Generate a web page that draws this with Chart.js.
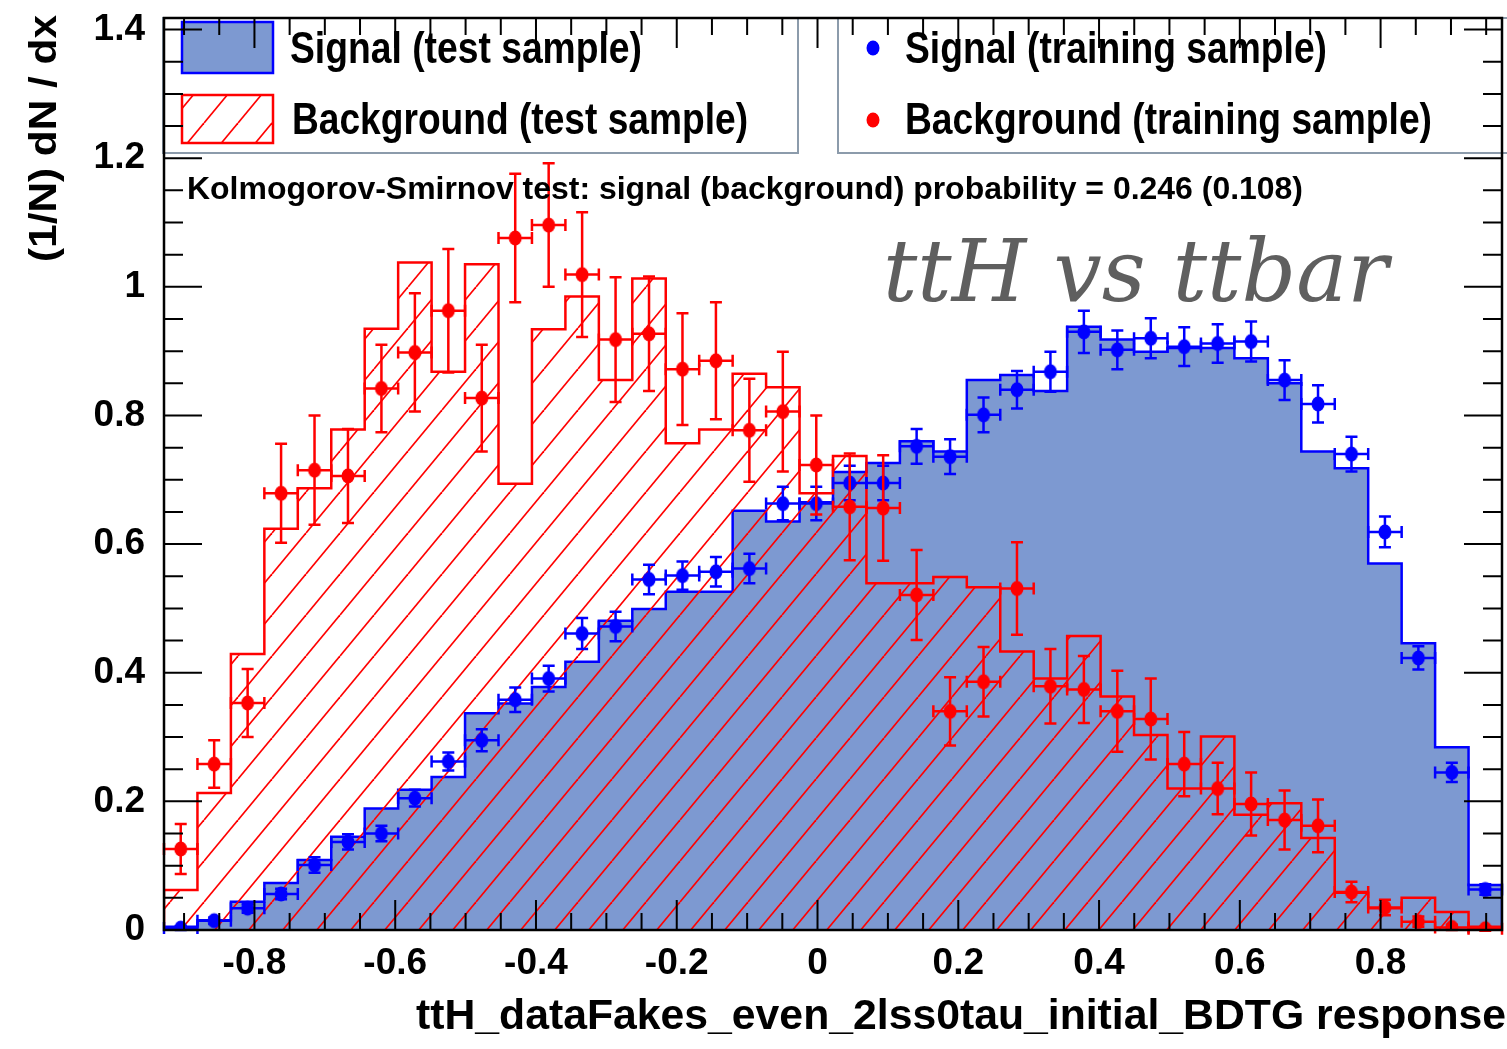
<!DOCTYPE html>
<html lang="en">
<head>
  <meta charset="UTF-8" />
  <title>ttH vs ttbar - BDTG response</title>
  <style>
    html, body { margin: 0; padding: 0; background: #fff; }
    #wrap { width: 1507px; height: 1049px; }
  </style>
</head>
<body>
  <div id="wrap"><canvas id="bdtChart" width="1507" height="1049"></canvas></div>

  <script src="https://cdn.jsdelivr.net/npm/chart.js@4.4.0/dist/chart.umd.min.js"></script>
  <script>
    // response range of the classifier output (40 equal bins)
    const xMin = -0.9285;
    const xMax = 0.9725;
    const yMax = 1.418;
    const xTickLabels = ['-0.8', '-0.6', '-0.4', '-0.2', '0', '0.2', '0.4', '0.6', '0.8'];
    const yTickLabels = ['0', '0.2', '0.4', '0.6', '0.8', '1', '1.2', '1.4'];

    // test samples, normalised histograms
    const sigTest = [0.005, 0.015, 0.044, 0.073, 0.109, 0.145, 0.189, 0.218, 0.238, 0.337,
                     0.352, 0.378, 0.417, 0.481, 0.499, 0.526, 0.526, 0.652, 0.635, 0.665,
                     0.712, 0.726, 0.760, 0.744, 0.855, 0.863, 0.838, 0.938, 0.918, 0.899,
                     0.905, 0.905, 0.889, 0.850, 0.744, 0.718, 0.570, 0.446, 0.284, 0.070];
    const bkgTest = [0.062, 0.213, 0.429, 0.624, 0.687, 0.778, 0.935, 1.038, 0.868, 1.035,
                     0.694, 0.934, 0.985, 0.855, 1.013, 0.757, 0.778, 0.865, 0.844, 0.679,
                     0.737, 0.539, 0.539, 0.549, 0.533, 0.433, 0.391, 0.457, 0.363, 0.303,
                     0.220, 0.301, 0.179, 0.197, 0.143, 0.058, 0.034, 0.050, 0.028, 0.005];

    // training samples, points with errors
    const sigTrain = [0.003, 0.0145, 0.034, 0.056, 0.101, 0.137, 0.150, 0.205, 0.262, 0.295,
                      0.358, 0.391, 0.461, 0.472, 0.545, 0.551, 0.557, 0.562, 0.663, 0.663,
                      0.695, 0.695, 0.752, 0.736, 0.801, 0.840, 0.868, 0.930, 0.902, 0.920,
                      0.907, 0.912, 0.915, 0.855, 0.818, 0.740, 0.619, 0.423, 0.245, 0.063];
    const sigTrainErr = [0.003, 0.005, 0.007, 0.008, 0.012, 0.012, 0.012, 0.013, 0.014, 0.017,
                         0.019, 0.020, 0.024, 0.023, 0.023, 0.022, 0.023, 0.023, 0.026, 0.026,
                         0.027, 0.027, 0.027, 0.027, 0.027, 0.029, 0.031, 0.033, 0.030, 0.031,
                         0.030, 0.030, 0.031, 0.031, 0.029, 0.027, 0.024, 0.018, 0.015, 0.008];
    const bkgTrain = [0.126, 0.258, 0.353, 0.679, 0.715, 0.706, 0.842, 0.898, 0.963, 0.827,
                      1.076, 1.096, 1.019, 0.918, 0.927, 0.872, 0.885, 0.777, 0.806, 0.723,
                      0.658, 0.656, 0.521, 0.340, 0.386, 0.531, 0.379, 0.374, 0.340, 0.328,
                      0.258, 0.220, 0.196, 0.171, 0.162, 0.059, 0.035, 0.013, 0.004, 0.002];
    const bkgTrainErr = [0.039, 0.037, 0.053, 0.077, 0.085, 0.073, 0.068, 0.092, 0.096, 0.083,
                         0.100, 0.096, 0.097, 0.097, 0.089, 0.087, 0.091, 0.080, 0.093, 0.077,
                         0.083, 0.082, 0.070, 0.053, 0.054, 0.072, 0.058, 0.052, 0.063, 0.063,
                         0.050, 0.040, 0.049, 0.046, 0.041, 0.016, 0.012, 0.008, 0.004, 0.003];

    const nBins = sigTest.length;
    const binW = (xMax - xMin) / nBins;
    const edge = i => xMin + i * binW;

    // outline of a histogram: two points per bin plus the drop to zero at both ends
    function stepPoints(h) {
      const pts = [{ x: edge(0), y: 0 }];
      h.forEach((v, i) => pts.push({ x: edge(i), y: v }, { x: edge(i + 1), y: v }));
      pts.push({ x: edge(nBins), y: 0 });
      return pts;
    }
    const centrePoints = v => v.map((y, i) => ({ x: edge(i) + binW / 2, y }));

    const canvas = document.getElementById('bdtChart');
    const ctx = canvas.getContext('2d');

    // "/" hatching for the background histogram
    function hatch(color) {
      const w = 34, h = 41;
      const c = document.createElement('canvas');
      c.width = w; c.height = h;
      const g = c.getContext('2d');
      g.strokeStyle = color;
      g.lineWidth = 1.7;
      for (const dx of [-w, 0, w]) {
        g.beginPath(); g.moveTo(dx, h); g.lineTo(dx + w, 0); g.stroke();
      }
      return ctx.createPattern(c, 'repeat');
    }

    // slightly tall round marker
    function marker(color) {
      const c = document.createElement('canvas');
      c.width = 16; c.height = 18;
      const g = c.getContext('2d');
      g.fillStyle = color;
      g.beginPath(); g.ellipse(8, 9, 6.5, 7.5, 0, 0, Math.PI * 2); g.fill();
      return c;
    }

    const SIG_FILL = '#7d99d1';
    const BLUE = '#0000ff';
    const RED = '#ff0000';
    const bkgHatch = hatch(RED);
    const FONT = '"Liberation Sans", Arial, Helvetica, sans-serif';

    // draw text squeezed/stretched horizontally to a given width
    function fitText(g, txt, x, y, size, width, align, font) {
      g.save();
      g.font = font || `bold ${size}px ${FONT}`;
      const sx = width / g.measureText(txt).width;
      g.translate(x, y);
      g.scale(sx, 1);
      g.textAlign = align;
      g.textBaseline = 'middle';
      g.fillText(txt, 0, 0);
      g.restore();
    }

    // horizontal and vertical error bars with end caps
    const errorBars = {
      id: 'errorBars',
      afterDatasetDraw(chart, args) {
        const ds = chart.data.datasets[args.index];
        if (!ds.errors) return;
        const { ctx: g, scales: { x, y } } = chart;
        const cap = 6;
        g.save();
        g.strokeStyle = ds.borderColor;
        g.lineWidth = 2.5;
        ds.data.forEach((p, i) => {
          const px = x.getPixelForValue(p.x), py = y.getPixelForValue(p.y);
          const x0 = x.getPixelForValue(p.x - binW / 2), x1 = x.getPixelForValue(p.x + binW / 2);
          const y0 = y.getPixelForValue(p.y - ds.errors[i]), y1 = y.getPixelForValue(p.y + ds.errors[i]);
          g.beginPath();
          g.moveTo(x0, py); g.lineTo(x1, py);
          g.moveTo(x0, py - cap); g.lineTo(x0, py + cap);
          g.moveTo(x1, py - cap); g.lineTo(x1, py + cap);
          g.moveTo(px, y0); g.lineTo(px, y1);
          g.moveTo(px - cap, y0); g.lineTo(px + cap, y0);
          g.moveTo(px - cap, y1); g.lineTo(px + cap, y1);
          g.stroke();
        });
        g.restore();
      }
    };

    // legends, statistics text, frame with inner ticks, titles
    const decorations = {
      id: 'decorations',
      afterDatasetsDraw(chart) {
        const { ctx: g, chartArea: a, scales: { x, y } } = chart;
        g.save();

        // legend boxes
        g.fillStyle = '#fff';
        g.strokeStyle = '#8c9bab';
        g.lineWidth = 2;
        g.fillRect(163, 18, 635, 135); g.strokeRect(163, 18, 635, 135);
        g.fillRect(838, 18, 700, 135); g.strokeRect(838, 18, 700, 135);

        g.fillStyle = SIG_FILL; g.fillRect(182, 22, 91, 51);
        g.strokeStyle = BLUE; g.lineWidth = 2.5; g.strokeRect(182, 22, 91, 51);
        g.fillStyle = bkgHatch; g.fillRect(182, 95, 91, 48);
        g.strokeStyle = RED; g.strokeRect(182, 95, 91, 48);

        g.fillStyle = BLUE; g.beginPath(); g.ellipse(873, 48, 6.5, 7.5, 0, 0, Math.PI * 2); g.fill();
        g.fillStyle = RED; g.beginPath(); g.ellipse(873, 120, 6.5, 7.5, 0, 0, Math.PI * 2); g.fill();

        g.fillStyle = '#000';
        fitText(g, 'Signal (test sample)', 290, 51, 44, 352, 'left');
        fitText(g, 'Background (test sample)', 292, 122, 44, 456, 'left');
        fitText(g, 'Signal (training sample)', 905, 51, 44, 422, 'left');
        fitText(g, 'Background (training sample)', 905, 122, 44, 527, 'left');

        fitText(g, 'Kolmogorov-Smirnov test: signal (background) probability = 0.246 (0.108)',
                187, 190, 31, 1116, 'left');

        // frame
        g.strokeStyle = '#000';
        g.lineWidth = 2.5;
        g.strokeRect(a.left, a.top, a.right - a.left, a.bottom - a.top);

        // ticks pointing inwards on all four sides
        g.lineWidth = 2;
        g.beginPath();
        for (let k = Math.ceil(xMin / 0.05); k * 0.05 <= xMax; k++) {
          const px = x.getPixelForValue(k * 0.05);
          const len = k % 4 === 0 ? 30 : 17;
          g.moveTo(px, a.bottom); g.lineTo(px, a.bottom - len);
          g.moveTo(px, a.top); g.lineTo(px, a.top + len);
        }
        for (let k = 0; k * 0.05 <= yMax; k++) {
          const py = y.getPixelForValue(k * 0.05);
          const len = k % 4 === 0 ? 38 : 19;
          g.moveTo(a.left, py); g.lineTo(a.left + len, py);
          g.moveTo(a.right, py); g.lineTo(a.right - len, py);
        }
        g.stroke();

        // axis titles
        g.fillStyle = '#000';
        fitText(g, 'ttH_dataFakes_even_2lss0tau_initial_BDTG response', 1506, 1017, 42, 1090, 'right');
        g.save();
        g.translate(45, 15);
        g.rotate(-Math.PI / 2);
        fitText(g, '(1/N) dN / dx', 0, 0, 39, 247, 'right');
        g.restore();

        // process label
        g.fillStyle = '#5f5f5f';
        g.save();
        g.font = `italic 86px "DejaVu Serif", serif`;
        const sx = 505 / g.measureText('ttH vs ttbar').width;
        g.translate(883, 301);
        g.scale(sx, 1);
        g.textAlign = 'left';
        g.textBaseline = 'alphabetic';
        g.fillText('ttH vs ttbar', 0, 0);
        g.restore();

        g.restore();
      }
    };

    const tickFont = { family: FONT, size: 37, weight: 'bold' };

    new Chart(ctx, {
      type: 'scatter',
      data: {
        datasets: [
          {
            label: 'Signal (test sample)',
            data: stepPoints(sigTest),
            showLine: true, fill: 'origin',
            backgroundColor: SIG_FILL, borderColor: BLUE, borderWidth: 2.5,
            pointRadius: 0, tension: 0, order: 4
          },
          {
            label: 'Background (test sample)',
            data: stepPoints(bkgTest),
            showLine: true, fill: 'origin',
            backgroundColor: bkgHatch, borderColor: RED, borderWidth: 2.5,
            pointRadius: 0, tension: 0, order: 3
          },
          {
            label: 'Signal (training sample)',
            data: centrePoints(sigTrain), errors: sigTrainErr,
            pointStyle: marker(BLUE), borderColor: BLUE, backgroundColor: BLUE, order: 2
          },
          {
            label: 'Background (training sample)',
            data: centrePoints(bkgTrain), errors: bkgTrainErr,
            pointStyle: marker(RED), borderColor: RED, backgroundColor: RED, order: 1
          }
        ]
      },
      options: {
        responsive: false,
        animation: false,
        devicePixelRatio: 1,
        layout: { padding: { top: 18, left: 0, right: 0, bottom: 0 } },
        plugins: {
          legend: { display: false },
          tooltip: { enabled: false }
        },
        scales: {
          x: {
            type: 'linear', min: xMin, max: xMax,
            grid: { display: false, drawTicks: false },
            border: { display: false },
            ticks: {
              stepSize: 0.2, includeBounds: false, autoSkip: false, maxRotation: 0,
              padding: 12, color: '#000', font: tickFont,
              callback: (v, i) => xTickLabels[i]
            },
            afterFit: s => { s.height = 119; s.paddingLeft = 0; s.paddingRight = 0; }
          },
          y: {
            type: 'linear', min: 0, max: yMax,
            grid: { display: false, drawTicks: false },
            border: { display: false },
            ticks: {
              stepSize: 0.2, includeBounds: false, autoSkip: false,
              padding: 19, color: '#000', font: tickFont,
              callback: (v, i) => yTickLabels[i]
            },
            afterFit: s => { s.width = 164; s.paddingTop = 0; s.paddingBottom = 0; }
          }
        }
      },
      plugins: [errorBars, decorations]
    });
  </script>
</body>
</html>
